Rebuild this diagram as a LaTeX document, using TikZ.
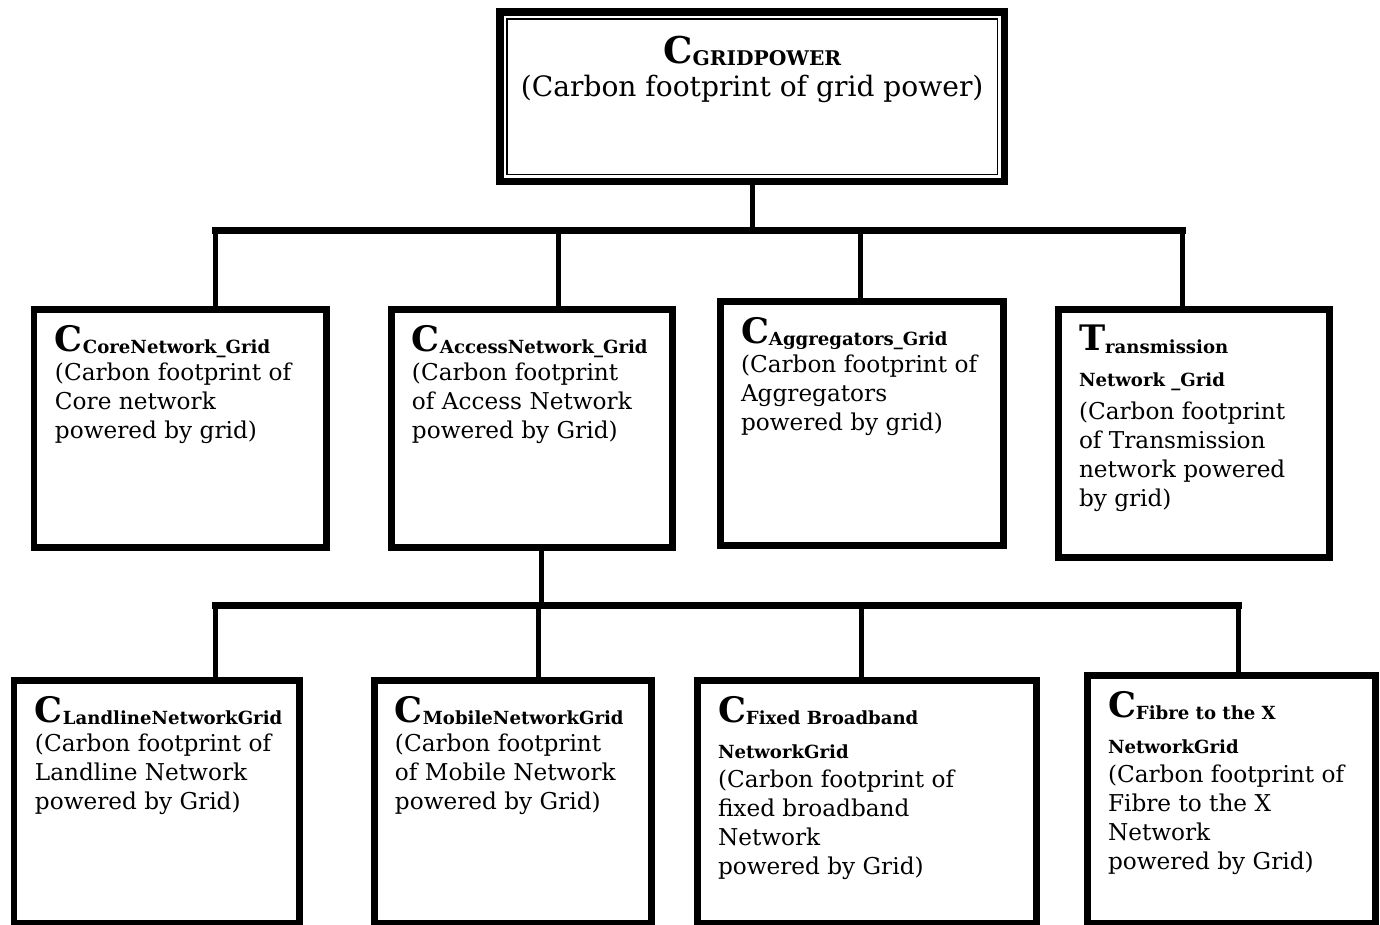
\documentclass[tikz,border=0pt]{standalone}
\usepackage{fontspec}
\setmainfont{DejaVu Serif}

\newcommand{\bodysize}{\fontsize{13.2}{16.5}\selectfont}
\newcommand{\head}[2]{{\fontsize{20}{20}\selectfont\bfseries #1}\raisebox{-1.5pt}{\fontsize{10.3}{12}\selectfont\bfseries #2}}
\newcommand{\subline}[1]{{\fontsize{10.3}{12}\selectfont\bfseries #1}}

\begin{document}
\begin{tikzpicture}[x=0.02cm,y=-0.02cm,
  grid node/.style={draw,line width=0.14cm,anchor=north west,inner xsep=0.42cm,inner ysep=0.32cm,font=\bodysize},
  top node/.style={draw,line width=0.15cm,anchor=north west,inner xsep=0.4cm,inner ysep=0.48cm},
  link/.style={line width=0.1cm},
  bar/.style={line width=0.14cm,line cap=rect}]

  \useasboundingbox (0,0) rectangle (1380,924);

  % top box
  \node[top node] (grid) at (496,8) {\parbox[c][2.44cm][t]{9.3cm}{\centering
    {\fontsize{21}{22}\selectfont\bfseries C}\raisebox{-1.5pt}{\fontsize{11.5}{13}\selectfont\bfseries GRIDPOWER}\\[4pt]
    {\fontsize{16}{17}\selectfont (Carbon footprint of grid power)}}};
  \draw[line width=0.035cm] ([shift={(11,11)}]grid.north west) rectangle ([shift={(-11,-11)}]grid.south east);

  % first level
  \node[grid node] (core) at (30.5,305.5) {\parbox[c][4.14cm][t]{5.02cm}{\raggedright
    \head{C}{CoreNetwork\_Grid}\\ (Carbon footprint of\\ Core network\\ powered by grid)}};
  \node[grid node] (access) at (387.5,305.5) {\parbox[c][4.14cm][t]{4.80cm}{\raggedright
    \head{C}{AccessNetwork\_Grid}\\ (Carbon footprint\\ of Access Network\\ powered by Grid)}};
  \node[grid node] (aggr) at (716.5,297.5) {\parbox[c][4.26cm][t]{4.84cm}{\raggedright
    \head{C}{Aggregators\_Grid}\\ (Carbon footprint of\\ Aggregators\\ powered by grid)}};
  \node[grid node] (trans) at (1054.5,305.5) {\parbox[c][4.34cm][t]{4.60cm}{\raggedright
    \head{T}{ransmission}\\[4pt] \subline{Network \_Grid}\\[2pt] (Carbon footprint\\ of Transmission\\ network powered\\ by grid)}};

  % second level
  \node[grid node] (landline) at (10.5,676.5) {\parbox[c][4.24cm][t]{4.88cm}{\raggedright
    \head{C}{LandlineNetworkGrid}\\ (Carbon footprint of\\ Landline Network\\ powered by Grid)}};
  \node[grid node] (mobile) at (370.5,676.5) {\parbox[c][4.24cm][t]{4.72cm}{\raggedright
    \head{C}{MobileNetworkGrid}\\ (Carbon footprint\\ of Mobile Network\\ powered by Grid)}};
  \node[grid node] (fixed) at (693.5,676.5) {\parbox[c][4.24cm][t]{5.96cm}{\raggedright
    \head{C}{Fixed Broadband}\\[4pt] \subline{NetworkGrid}\\ (Carbon footprint of\\ fixed broadband\\ Network\\ powered by Grid)}};
  \node[grid node] (fibre) at (1083.5,671.5) {\parbox[c][4.34cm][t]{4.94cm}{\raggedright
    \head{C}{Fibre to the X}\\[4pt] \subline{NetworkGrid}\\ (Carbon footprint of\\ Fibre to the X\\ Network\\ powered by Grid)}};

  % tree lines
  \coordinate (j1) at (215,230);
  \coordinate (j2) at (558,230);
  \coordinate (j3) at (860,230);
  \coordinate (j4) at (1182,230);
  \draw[bar] (j1) -- (j4);
  \path[link]
    (grid.south) edge (grid.south |- j1)
    (j1) edge (j1 |- core.north)
    (j2) edge (j2 |- access.north)
    (j3) edge (j3 |- aggr.north)
    (j4) edge (j4 |- trans.north);

  \coordinate (k0) at (541,605);
  \coordinate (k1) at (215,605);
  \coordinate (k2) at (538,605);
  \coordinate (k3) at (861,605);
  \coordinate (k4) at (1238,605);
  \draw[bar] (k1) -- (k4);
  \path[link]
    (k0 |- access.south) edge (k0)
    (k1) edge (k1 |- landline.north)
    (k2) edge (k2 |- mobile.north)
    (k3) edge (k3 |- fixed.north)
    (k4) edge (k4 |- fibre.north);
\end{tikzpicture}
\end{document}
